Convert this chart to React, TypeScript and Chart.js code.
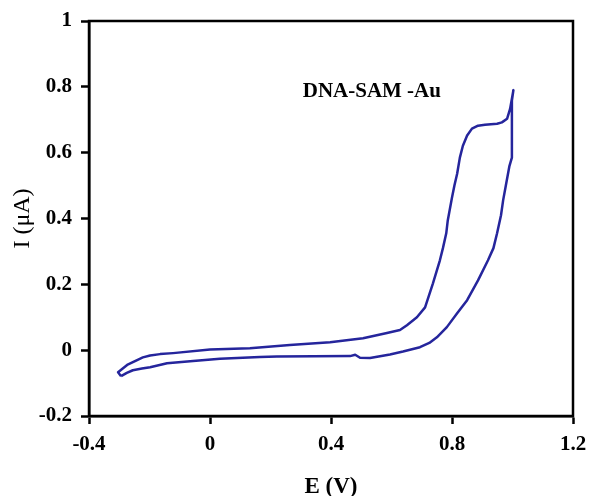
import React, { useEffect, useRef } from "react";
import { Chart, registerables } from "chart.js";

Chart.register(...registerables);

// Lower branch, scanned from -0.3 V up to 1.0 V
const lowerE = [-0.294, -0.275, -0.255, -0.225, -0.198, -0.142, -0.056, 0.033, 0.165, 0.221, 0.463, 0.48, 0.496, 0.529, 0.595, 0.638, 0.694, 0.725, 0.75, 0.783, 0.817, 0.85, 0.886, 0.919, 0.937, 0.949, 0.962, 0.969, 0.978, 0.99, 0.998, 0.998, 1.003];
const lowerI = [-0.079, -0.069, -0.061, -0.056, -0.052, -0.04, -0.033, -0.026, -0.021, -0.019, -0.018, -0.014, -0.023, -0.024, -0.013, -0.004, 0.009, 0.022, 0.039, 0.07, 0.112, 0.152, 0.212, 0.273, 0.31, 0.355, 0.41, 0.455, 0.5, 0.56, 0.585, 0.758, 0.79];
// Upper branch, scanned back from 1.0 V to -0.3 V
const upperE = [0.992, 0.982, 0.965, 0.949, 0.909, 0.886, 0.866, 0.85, 0.836, 0.826, 0.817, 0.808, 0.8, 0.786, 0.781, 0.77, 0.76, 0.737, 0.711, 0.684, 0.651, 0.628, 0.585, 0.506, 0.397, 0.264, 0.132, 0.0, -0.122, -0.165, -0.198, -0.222, -0.241, -0.274, -0.304, -0.294];
const upperI = [0.733, 0.703, 0.692, 0.688, 0.685, 0.682, 0.673, 0.652, 0.621, 0.585, 0.536, 0.5, 0.464, 0.394, 0.355, 0.31, 0.273, 0.203, 0.13, 0.1, 0.076, 0.061, 0.052, 0.036, 0.024, 0.016, 0.006, 0.002, -0.009, -0.012, -0.016, -0.022, -0.03, -0.045, -0.067, -0.079];

const xTickValues = [-0.4, 0, 0.4, 0.8, 1.2];
const xTickLabels = ["-0.4", "0", "0.4", "0.8", "1.2"];
const yTickValues = [-0.2, 0, 0.2, 0.4, 0.6, 0.8, 1];
const yTickLabels = ["-0.2", "0", "0.2", "0.4", "0.6", "0.8", "1"];

const annotationText = "DNA-SAM -Au";
const annotationE = 0.535;
const annotationI = 0.785;

const FONT = "'Liberation Serif', 'Times New Roman', serif";
const LINE_COLOR = "#25259c";

export default function App() {
  const ref = useRef<HTMLCanvasElement | null>(null);

  useEffect(() => {
    if (!ref.current) return;
    const points = [
      ...lowerE.map((e, i) => ({ x: e, y: lowerI[i] })),
      ...upperE.map((e, i) => ({ x: e, y: upperI[i] })),
    ];

    const framePlugin = {
      id: "frame",
      afterDraw(chart: any) {
        const { ctx, chartArea } = chart;
        ctx.save();
        ctx.strokeStyle = "#000";
        ctx.lineWidth = 2.5;
        ctx.strokeRect(chartArea.left, chartArea.top, chartArea.right - chartArea.left, chartArea.bottom - chartArea.top);
        const xs = chart.scales.x;
        const ys = chart.scales.y;
        ctx.fillStyle = "#000";
        ctx.font = `bold 21px ${FONT}`;
        ctx.textAlign = "center";
        ctx.textBaseline = "middle";
        ctx.fillText(annotationText, xs.getPixelForValue(annotationE), ys.getPixelForValue(annotationI));
        ctx.restore();
      },
    };

    const chart = new Chart(ref.current, {
      type: "scatter",
      data: {
        datasets: [
          {
            data: points,
            showLine: true,
            borderColor: LINE_COLOR,
            borderWidth: 2.5,
            borderJoinStyle: "round",
            pointRadius: 0,
            fill: false,
            tension: 0,
          },
        ],
      },
      options: {
        responsive: false,
        animation: false,
        layout: { padding: { left: 0, right: 17, top: 21, bottom: 0 } },
        plugins: { legend: { display: false }, tooltip: { enabled: false } },
        scales: {
          x: {
            type: "linear",
            min: -0.4,
            max: 1.2,
            afterBuildTicks(scale: any) {
              scale.ticks = xTickValues.map((v) => ({ value: v }));
            },
            afterFit(scale: any) {
              scale.height = 80;
              scale.paddingLeft = 0;
              scale.paddingRight = 0;
            },
            ticks: {
              callback: (_v: any, i: number) => xTickLabels[i],
              color: "#000",
              font: { family: FONT, size: 21, weight: "bold" },
              padding: 8,
              maxRotation: 0,
            },
            grid: { drawOnChartArea: false, drawTicks: true, tickLength: 8, tickColor: "#000", tickWidth: 2.5 },
            border: { display: true, color: "#000", width: 2.5 },
            title: {
              display: true,
              text: "E (V)",
              color: "#000",
              font: { family: FONT, size: 23, weight: "bold", lineHeight: 0.8 },
              padding: { top: 0, bottom: 0 },
            },
          },
          y: {
            type: "linear",
            min: -0.2,
            max: 1,
            afterBuildTicks(scale: any) {
              scale.ticks = yTickValues.map((v) => ({ value: v }));
            },
            afterFit(scale: any) {
              scale.width = 89;
              scale.paddingTop = 0;
              scale.paddingBottom = 0;
            },
            ticks: {
              callback: (_v: any, i: number) => yTickLabels[i],
              color: "#000",
              font: { family: FONT, size: 21, weight: "bold" },
              padding: 9,
            },
            grid: { drawOnChartArea: false, drawTicks: true, tickLength: 8, tickColor: "#000", tickWidth: 2.5 },
            border: { display: true, color: "#000", width: 2.5 },
            title: {
              display: true,
              text: "I (μA)",
              color: "#000",
              font: { family: FONT, size: 24, weight: "normal" },
              padding: { top: 8, bottom: 0 },
            },
          },
        },
      },
      plugins: [framePlugin],
    });
    return () => chart.destroy();
  }, []);

  return (
    <div style={{ position: "fixed", left: 0, top: 0, width: 590, height: 496, background: "#fff" }}>
      <canvas ref={ref} width={590} height={496} />
    </div>
  );
}
